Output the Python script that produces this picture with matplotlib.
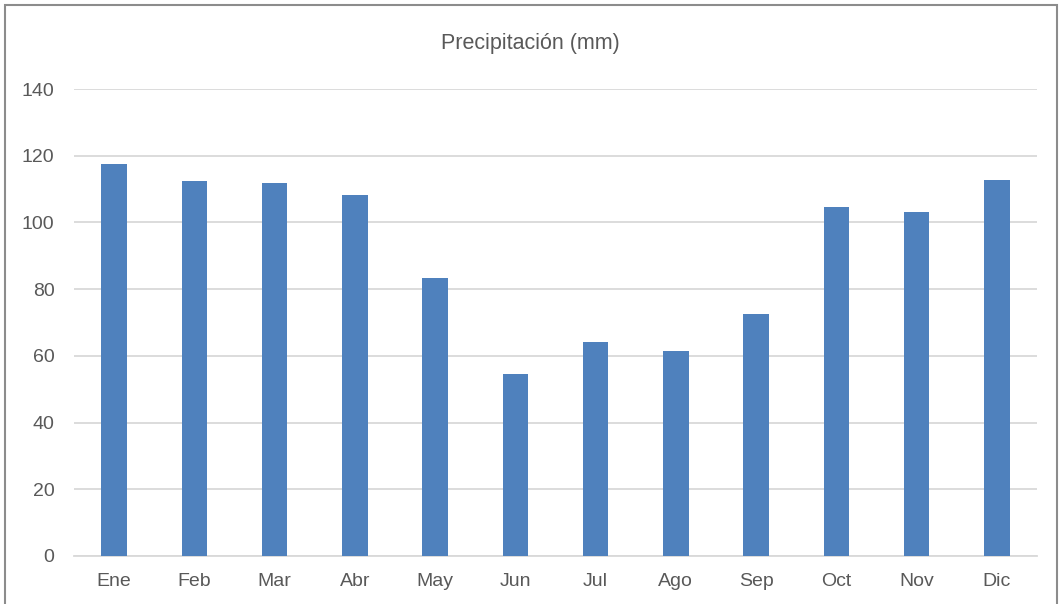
import matplotlib
matplotlib.use("Agg")
import matplotlib.pyplot as plt
from matplotlib.patches import Rectangle

months = ["Ene", "Feb", "Mar", "Abr", "May", "Jun", "Jul", "Ago", "Sep", "Oct", "Nov", "Dic"]
precip = [117.5, 112.4, 111.8, 108.2, 83.3, 54.6, 64.1, 61.5, 72.5, 104.6, 103.1, 112.7]
yticks = [0, 20, 40, 60, 80, 100, 120, 140]
title = "Precipitación (mm)"

plt.rcParams['font.family'] = ['Liberation Sans Narrow', 'Liberation Sans', 'DejaVu Sans']
txt = "#595959"

fig = plt.figure(figsize=(10.6, 6.04), dpi=100)
ax = fig.add_axes([0.0698, 0.0795, 0.9085, 0.7731])
x = range(len(months))
ax.bar(x, precip, width=0.32, color="#4F81BD", zorder=3)
ax.set_xlim(-0.5, len(months) - 0.5)
ax.set_ylim(0, 140)
ax.set_yticks(yticks)
ax.set_xticks(list(x))
ax.set_xticklabels(months)
ax.grid(axis="y", color="#D9D9D9", linewidth=1.3, zorder=0)
ax.set_axisbelow(True)
for s in ["top", "right", "left"]:
    ax.spines[s].set_visible(False)
ax.spines["bottom"].set_color("#D9D9D9")
ax.spines["bottom"].set_linewidth(1.3)
ax.tick_params(axis="both", length=0, labelsize=14, colors=txt)
ax.tick_params(axis="y", pad=14)
ax.tick_params(axis="x", pad=12)
fig.text(0.5, 0.928, title, ha="center", va="center", fontsize=15.5, color=txt)

fig.patches.append(Rectangle((5/1060, -0.05), 1 - 8/1060, 1.05 - 5/604, transform=fig.transFigure,
                             fill=False, edgecolor="#8C8C8C", linewidth=1.5))
fig.savefig("out.png", dpi=100)
